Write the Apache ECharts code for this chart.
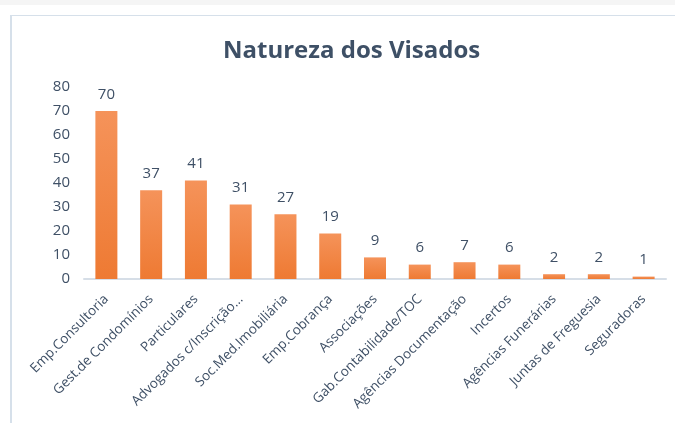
<!DOCTYPE html>
<html lang="pt">
<head>
    <meta charset="UTF-8">
    <title>Natureza dos Visados</title>
    <script src="https://cdn.jsdelivr.net/npm/echarts@6/dist/echarts.min.js"></script>
    <style>
        html, body { margin: 0; padding: 0; background: #fff; }
        #strip { position: absolute; left: 0; top: 0; width: 675px; height: 5px; background: #f5f5f5; }
        #frame { position: absolute; left: 10px; top: 15px; width: 700px; height: 420px;
                 border-left: 2px solid #d6e0ea; border-top: 1px solid #d6e0ea; }
        #chart { position: absolute; left: 0; top: 0; width: 675px; height: 423px; }
    </style>
</head>
<body>
<div id="strip"></div>
<div id="frame"></div>
<div id="chart"></div>

<script type="text/javascript">
    var categories = ['Emp.Consultoria', 'Gest.de Condomínios', 'Particulares', 'Advogados c/Inscrição...',
        'Soc.Med.Imobiliária', 'Emp.Cobrança', 'Associações', 'Gab.Contabilidade/TOC',
        'Agências Documentação', 'Incertos', 'Agências Funerárias', 'Juntas de Freguesia', 'Seguradoras'];
    var visados = [70, 37, 41, 31, 27, 19, 9, 6, 7, 6, 2, 2, 1];

    var textColor = '#3f5066';
    var myChart = echarts.init(document.getElementById('chart'));

    var option = {
        animation: false,
        textStyle: { fontFamily: 'Open Sans' },
        title: {
            text: 'Natureza dos Visados',
            left: 218,
            top: 34,
            textStyle: { fontSize: 24, fontWeight: 'bold', color: '#3e5066', fontFamily: 'Open Sans' }
        },
        grid: { left: 84, top: 87, width: 582, height: 192, containLabel: false },
        xAxis: {
            type: 'category',
            data: categories,
            axisLine: { lineStyle: { color: '#d6dee7', width: 2 } },
            axisTick: { show: false },
            axisLabel: { rotate: 45, interval: 0, color: textColor, fontSize: 13.5, margin: 18 }
        },
        yAxis: {
            type: 'value',
            min: 0,
            max: 80,
            interval: 10,
            splitLine: { show: false },
            axisLine: { show: false },
            axisTick: { show: false },
            axisLabel: { color: textColor, fontSize: 15, margin: 14 }
        },
        series: [{
            type: 'bar',
            data: visados,
            barWidth: 22,
            itemStyle: {
                color: new echarts.graphic.LinearGradient(0, 0, 0, 1, [
                    { offset: 0, color: '#f5935a' },
                    { offset: 1, color: '#ee7a33' }
                ])
            },
            label: { show: true, position: 'top', distance: 9, color: textColor, fontSize: 15 }
        }]
    };

    myChart.setOption(option);
</script>
</body>
</html>
